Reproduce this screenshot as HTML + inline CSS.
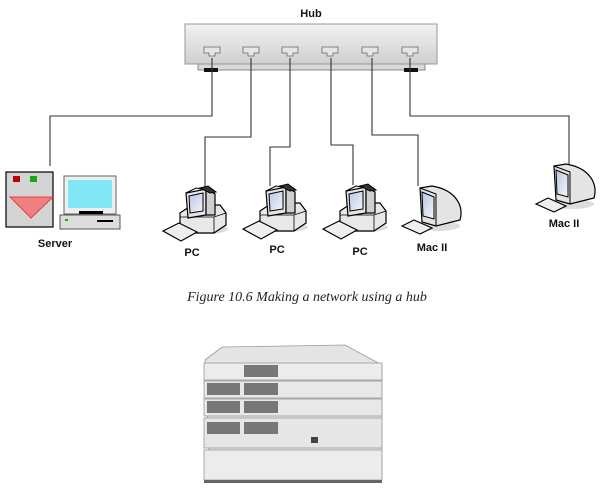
<!DOCTYPE html>
<html><head><meta charset="utf-8"><style>
html,body{margin:0;padding:0;background:#fff;width:615px;height:493px;overflow:hidden}
svg{display:block}
.l{font-family:"Liberation Sans",sans-serif;font-weight:bold;font-size:11px;fill:#111}
</style></head><body>
<svg width="615" height="493" viewBox="0 0 615 493" xmlns="http://www.w3.org/2000/svg">
<defs>
<linearGradient id="hg" x1="0" y1="0" x2="0" y2="1"><stop offset="0" stop-color="#f2f2f2"/><stop offset="1" stop-color="#cfcfcf"/></linearGradient>
<linearGradient id="scr" x1="0" y1="0" x2="1" y2="1"><stop offset="0" stop-color="#b8c6e0"/><stop offset="1" stop-color="#f4f6fb"/></linearGradient>
<g id="port"><path d="M-8,-5 h16 v6 h-5 v3 h-6 v-3 h-5z" fill="#e6e6e6" stroke="#666" stroke-width="0.8"/></g>
<g id="pc">
 <ellipse cx="26" cy="42" rx="22" ry="5" fill="#ddd"/>
 <path d="M0,26 L12,18 H40 L46,26 V38 L34,46 H6 L0,40Z" fill="#e8e8e8" stroke="#000" stroke-width="1.2"/>
 <path d="M0,26 V30 H34 L46,26 M34,30 V46" fill="none" stroke="#000" stroke-width="0.8"/>
 <path d="M6,6 L26,2 V28 L8,31Z" fill="#e4e4e4" stroke="#000" stroke-width="1.2"/>
 <path d="M26,2 L35,7 V28 L26,28Z" fill="#cfcfcf" stroke="#000" stroke-width="1.2"/>
 <path d="M6,6 L16,1 L34,4 L26,2Z" fill="#eee" stroke="#000" stroke-width="1"/>
 <path d="M20,1 L28,-1 L36,5 L30,6Z" fill="#333" stroke="#000"/>
 <path d="M9,9 L23,6 V24 L10,26Z" fill="url(#scr)" stroke="#000" stroke-width="1"/>
 <path d="M-17,44 L-1,36 L17,45 L1,54Z" fill="#eee" stroke="#000" stroke-width="1.2"/>
</g>
<g id="mac">
 <ellipse cx="22" cy="40" rx="22" ry="5" fill="#ddd"/>
 <path d="M4,2 L16,0 C40,4 48,20 44,34 L20,40 L6,36Z" fill="#e4e4e4" stroke="#000" stroke-width="1.2"/>
 <path d="M4,2 L20,8 V40" fill="none" stroke="#000" stroke-width="1"/>
 <path d="M6,6 L18,11 V33 L7,30Z" fill="url(#scr)" stroke="#000" stroke-width="1"/>
 <path d="M-14,40 L-2,34 L16,42 L4,48Z" fill="#eee" stroke="#000" stroke-width="1.2"/>
</g>
</defs>
<text class="l" x="311" y="17" text-anchor="middle" font-size="12">Hub</text>
<rect x="198" y="56" width="227" height="14" fill="#d8d8d8" stroke="#888"/>
<rect x="185" y="24" width="252" height="40" fill="url(#hg)" stroke="#999"/>
<rect x="204" y="68" width="14" height="4" fill="#111"/>
<rect x="404" y="68" width="14" height="4" fill="#111"/>
<g><use href="#port" x="212" y="52"/><use href="#port" x="251" y="52"/><use href="#port" x="290" y="52"/><use href="#port" x="330" y="52"/><use href="#port" x="370" y="52"/><use href="#port" x="410" y="52"/></g>
<g fill="none" stroke="#333" stroke-width="1.1">
<path d="M212,58 V116 H50 V166"/>
<path d="M251,58 V137 H205 V188"/>
<path d="M290,58 V147 H270 V186"/>
<path d="M331,58 V145 H353 V185"/>
<path d="M372,58 V135 H418 V186"/>
<path d="M410,58 V116 H569 V164"/>
</g>
<rect x="6" y="172" width="47" height="55" fill="#d4d4d4" stroke="#000" stroke-width="1.2"/>
<rect x="13" y="176" width="7" height="6" fill="#b00"/><rect x="30" y="176" width="7" height="6" fill="#1a1"/>
<path d="M10,197 H53 L31,218Z" fill="#f08080" stroke="#d44"/>
<rect x="64" y="176" width="52" height="38" fill="#eee" stroke="#666"/>
<rect x="68" y="180" width="44" height="28" fill="#7fe8f4"/>
<rect x="79" y="211" width="24" height="3" fill="#000"/>
<rect x="60" y="215" width="60" height="14" fill="#ddd" stroke="#555"/>
<rect x="65" y="219" width="3" height="2" fill="#1a1"/><rect x="97" y="220" width="16" height="2" fill="#000"/>
<text class="l" x="55" y="247" text-anchor="middle">Server</text>
<use href="#pc" x="180" y="187"/>
<use href="#pc" x="260" y="185"/>
<use href="#pc" x="340" y="185"/>
<use href="#mac" x="416" y="186"/>
<use href="#mac" x="550" y="164"/>
<text class="l" x="192" y="256" text-anchor="middle">PC</text>
<text class="l" x="277" y="253" text-anchor="middle">PC</text>
<text class="l" x="360" y="255" text-anchor="middle">PC</text>
<text class="l" x="432" y="251" text-anchor="middle">Mac II</text>
<text class="l" x="564" y="227" text-anchor="middle">Mac II</text>
<text x="307" y="301" text-anchor="middle" font-family="Liberation Serif,serif" font-style="italic" font-size="14" fill="#222">Figure 10.6 Making a network using a hub</text>
<g stroke="#999" stroke-width="0.8">
<path d="M205,360 L222,347 L345,345 L382,365 L382,480 L210,476Z" fill="#e4e4e4"/>
<rect x="204" y="363" width="178" height="17" fill="#ececec"/>
<rect x="204" y="381" width="178" height="17" fill="#e8e8e8"/>
<rect x="204" y="399" width="178" height="17" fill="#e8e8e8"/>
<rect x="204" y="418" width="178" height="30" fill="#e6e6e6"/>
<rect x="204" y="450" width="178" height="30" fill="#ececec"/>
</g>
<g fill="#777">
<rect x="244" y="365" width="34" height="12"/>
<rect x="207" y="383" width="33" height="12"/><rect x="244" y="383" width="34" height="12"/>
<rect x="207" y="401" width="33" height="12"/><rect x="244" y="401" width="34" height="12"/>
<rect x="207" y="422" width="33" height="12"/><rect x="244" y="422" width="34" height="12"/>
<rect x="311" y="437" width="7" height="6" fill="#444"/>
</g>
<rect x="204" y="480" width="178" height="3" fill="#666"/>
</svg>
</body></html>
